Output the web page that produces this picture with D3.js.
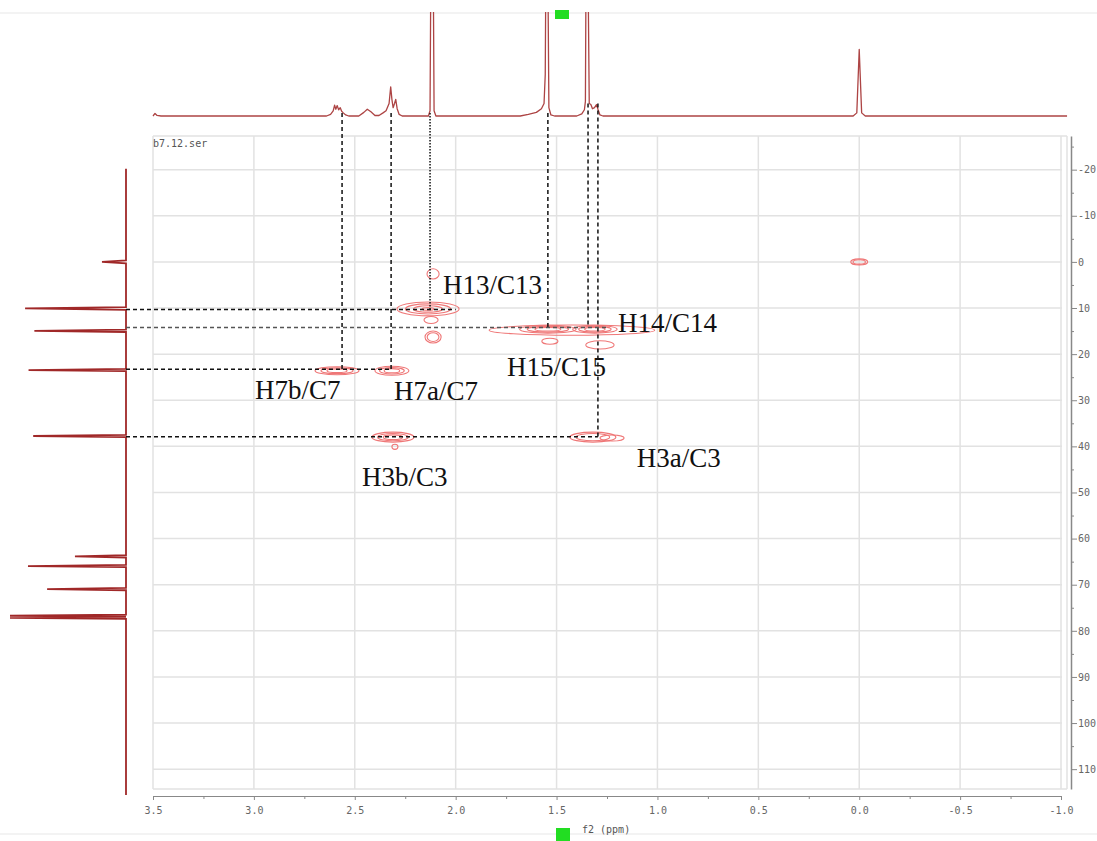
<!DOCTYPE html>
<html>
<head>
<meta charset="utf-8">
<script src="https://cdn.jsdelivr.net/npm/d3@7"></script>
<style>
  body { margin: 0; background: #fff; }
  .lab { font-family: "Liberation Serif", "Times New Roman", serif; font-size: 27px; fill: #111; }
  .tk text { font-family: "DejaVu Sans Mono", monospace; font-size: 10px; fill: #666; }
  .mono { font-family: "DejaVu Sans Mono", monospace; font-size: 10px; fill: #555; }
</style>
</head>
<body>
<div id="chart"></div>
<script>
// tick values, f2 = 1H, f1 = 13C
var hTicks = [3.5, 3.0, 2.5, 2.0, 1.5, 1.0, 0.5, 0.0, -0.5, -1.0];
var hMinor = [3.25, 2.75, 2.25, 1.75, 1.25, 0.75, 0.25, -0.25, -0.75];
var cTicks = [-20, -10, 0, 10, 20, 30, 40, 50, 60, 70, 80, 90, 100, 110];
var cMinor = [-25, -15, -5, 5, 15, 25, 35, 45, 55, 65, 75, 85, 95, 105];

// 1H projection on top: [ppm, intensity]
var hTrace = [
  [3.50, 0], [3.49, 2.5], [3.48, 0.5], [3.46, 0],
  [2.64, 0], [2.62, 1.5], [2.607, 5], [2.600, 10.5], [2.594, 6.5], [2.587, 10], [2.580, 6],
  [2.572, 8], [2.565, 4.5], [2.557, 3], [2.545, 1], [2.53, 0],
  [2.48, 0], [2.455, 3.5], [2.438, 6.5], [2.42, 4], [2.40, 0.5], [2.38, 0.5],
  [2.36, 3], [2.345, 5], [2.33, 12], [2.322, 28], [2.316, 16], [2.310, 8], [2.303, 12],
  [2.297, 16], [2.290, 7], [2.280, 1.5], [2.265, 0],
  [2.135, 0], [2.127, 5], [2.123, 140], [2.111, 140], [2.107, 5], [2.098, 0],
  [1.68, 0], [1.64, 1.5], [1.60, 3.5], [1.575, 7], [1.562, 12], [1.556, 40], [1.553, 140],
  [1.543, 140], [1.538, 8], [1.528, 1], [1.51, 0],
  [1.40, 0], [1.375, 2], [1.362, 6], [1.357, 14], [1.354, 140], [1.344, 140], [1.338, 12],
  [1.330, 11], [1.322, 7], [1.312, 8], [1.302, 11], [1.294, 6], [1.285, 1], [1.27, 0],
  [0.03, 0], [0.012, 3], [0.0, 64], [-0.012, 3], [-0.03, 0], [-1.03, 0]
];

// 13C projection on the left: [ppm, intensity]
var cTrace = [
  [-20.2, 0], [-0.3, 0], [0, 20.7], [0.3, 0],
  [9.8, 0], [10.1, 87], [10.4, 0],
  [14.7, 0], [14.95, 79], [15.2, 0],
  [23.2, 0], [23.45, 84], [23.7, 0],
  [37.5, 0], [37.75, 80], [38.0, 0],
  [63.6, 0], [63.85, 44], [64.1, 0],
  [65.7, 0], [65.95, 84.5], [66.2, 0],
  [70.7, 0], [70.95, 68], [71.2, 0],
  [76.5, 0], [76.7, 100], [76.85, 0], [76.95, 100], [77.1, 0], [77.2, 100], [77.4, 0],
  [115.6, 0]
];

// HSQC cross peaks: [1H ppm, 13C ppm, 1H half width, 13C half width, contour levels]
var crossPeaks = [
  [0.0, 0.0, 0.042, 0.65, 2],
  [2.137, 10.2, 0.154, 1.5, 4],
  [2.112, 2.6, 0.03, 1.1, 1],
  [2.122, 12.6, 0.035, 0.75, 1],
  [2.112, 16.3, 0.04, 1.3, 2],
  [1.424, 14.8, 0.41, 1.1, 1],
  [1.543, 14.6, 0.14, 0.85, 3],
  [1.31, 14.6, 0.11, 0.85, 3],
  [1.533, 17.2, 0.04, 0.65, 1],
  [1.285, 18.0, 0.07, 0.9, 1],
  [2.588, 23.6, 0.109, 0.87, 3],
  [2.316, 23.6, 0.084, 0.98, 3],
  [2.311, 38.0, 0.104, 1.08, 3],
  [2.301, 40.1, 0.015, 0.55, 1],
  [1.32, 38.0, 0.114, 1.08, 2],
  [1.225, 38.2, 0.06, 0.65, 1]
];

// assignment labels: [text, 1H ppm, 13C ppm] of the text start
var labels = [
  ["H13/C13", 2.063, 6.9],
  ["H14/C14", 1.196, 15.2],
  ["H15/C15", 1.746, 24.7],
  ["H7b/C7", 2.995, 29.7],
  ["H7a/C7", 2.306, 29.9],
  ["H3b/C3", 2.464, 48.6],
  ["H3a/C3", 1.102, 44.5]
];

// guides from the 1H trace down: [1H ppm, 13C ppm where it ends, trace intensity where it starts]
var vGuides = [
  [2.563, 23.3, 3],
  [2.320, 23.3, 3],
  [2.127, 10.3, 3],
  [1.543, 14.2, 3],
  [1.344, 14.2, 12],
  [1.295, 37.9, 12]
];
// guides from the 13C trace across: [13C ppm, 1H ppm where it ends]
var hGuides = [
  [10.3, 2.0],
  [14.2, 1.25],
  [23.3, 2.32],
  [37.9, 1.295]
];
var vDash = ["4,3", "4,3", "1.5,1.5", "4,3", "4,3", "4,3"];
var hColor = ["#111", "#555", "#111", "#111"];

var svgWidth = 1097;
var svgHeight = 841;

var svg = d3.select("#chart")
  .append("svg")
  .attr("width", svgWidth)
  .attr("height", svgHeight);

svg.append("rect").attr("width", svgWidth).attr("height", svgHeight).attr("fill", "#fff");

// scales
var x = d3.scaleLinear().domain([3.5, -1.0]).range([153, 1061]);
var y = d3.scaleLinear().domain([-27.3, 114.3]).range([136, 789]);
var hY = d3.scaleLinear().domain([0, 100]).range([116, 12]);
var cX = d3.scaleLinear().domain([0, 100]).range([126, 10]);

// faint page lines
svg.append("line").attr("x1", 0).attr("x2", svgWidth).attr("y1", 13).attr("y2", 13)
  .attr("stroke", "#efefef").attr("stroke-width", 1.5);
svg.append("line").attr("x1", 0).attr("x2", svgWidth).attr("y1", 834).attr("y2", 834)
  .attr("stroke", "#efefef").attr("stroke-width", 1.5);

// grid
var grid = svg.append("g").attr("stroke", "#e2e2e2").attr("stroke-width", 1.5);
grid.selectAll("line.v").data(hTicks).enter().append("line")
  .attr("x1", d => x(d)).attr("x2", d => x(d))
  .attr("y1", y.range()[0]).attr("y2", y.range()[1]);
grid.append("line").attr("x1", 1067).attr("x2", 1067).attr("y1", 136).attr("y2", 789);
grid.selectAll("line.h").data(cTicks).enter().append("line")
  .attr("x1", x(3.5)).attr("x2", 1062)
  .attr("y1", d => y(d)).attr("y2", d => y(d));
grid.append("line").attr("x1", x(3.5)).attr("x2", 1067).attr("y1", 136).attr("y2", 136);
grid.append("line").attr("x1", x(3.5)).attr("x2", 1067).attr("y1", 789).attr("y2", 789);

// bottom axis
var bottom = svg.append("g").attr("class", "tk").attr("transform", "translate(0,796)");
bottom.call(d3.axisBottom(x).tickValues(hTicks).tickSize(4).tickSizeOuter(0).tickPadding(7)
  .tickFormat(d => d.toFixed(1)));
bottom.append("g").call(d3.axisBottom(x).tickValues(hMinor).tickSize(3).tickFormat(""))
  .select(".domain").remove();
bottom.selectAll("path, line").attr("stroke", "#888");

// right axis
var right = svg.append("g").attr("class", "tk").attr("transform", "translate(1071,0)");
right.call(d3.axisRight(y).tickValues(cTicks).tickSize(6).tickSizeOuter(0).tickPadding(1)
  .tickFormat(d => String(d)));
right.append("g").call(d3.axisRight(y).tickValues(cMinor).tickSize(3).tickFormat(""))
  .select(".domain").remove();
right.selectAll("path, line").attr("stroke", "#888");
right.select(".domain").attr("stroke-width", 1.5);

svg.append("text").attr("class", "mono").attr("x", 582).attr("y", 833).text("f2 (ppm)");
svg.append("text").attr("class", "mono").attr("x", 153).attr("y", 147).text("b7.12.ser");

// green markers
svg.append("rect").attr("x", 555).attr("y", 10).attr("width", 14).attr("height", 9).attr("fill", "#22dd22");
svg.append("rect").attr("x", 556).attr("y", 828).attr("width", 14).attr("height", 13).attr("fill", "#22dd22");

// 1H projection
svg.append("clipPath").attr("id", "topclip")
  .append("rect").attr("x", 150).attr("y", 12).attr("width", 920).attr("height", 124);
var hLine = d3.line().x(d => x(d[0])).y(d => hY(d[1]));
svg.append("path").datum(hTrace)
  .attr("clip-path", "url(#topclip)")
  .attr("d", hLine)
  .attr("fill", "none").attr("stroke", "#ad4444").attr("stroke-width", 1.3)
  .attr("stroke-linejoin", "round");

// 13C projection
var cLine = d3.line().x(d => cX(d[1])).y(d => y(d[0]));
svg.append("path").datum(cTrace)
  .attr("d", cLine)
  .attr("fill", "none").attr("stroke", "#a02828").attr("stroke-width", 1.8);

// contours
var contours = svg.append("g").attr("fill", "none").attr("stroke", "#ef7777").attr("stroke-width", 1.1);
crossPeaks.forEach(function(p) {
  for (var k = 0; k < p[4]; k++) {
    var s = 1 - k * 0.27;
    contours.append("ellipse")
      .attr("cx", x(p[0]))
      .attr("cy", y(p[1]))
      .attr("rx", Math.abs(x(p[0] + p[2] * s) - x(p[0])))
      .attr("ry", Math.abs(y(p[1] + p[3] * s) - y(p[1])));
  }
});

// guides
var guides = svg.append("g").attr("fill", "none").attr("stroke-width", 1.5);
vGuides.forEach(function(g, i) {
  guides.append("line")
    .attr("x1", x(g[0])).attr("x2", x(g[0]))
    .attr("y1", hY(g[2])).attr("y2", y(g[1]))
    .attr("stroke", "#111").attr("stroke-dasharray", vDash[i]);
});
hGuides.forEach(function(g, i) {
  guides.append("line")
    .attr("x1", cX(0)).attr("x2", x(g[1]))
    .attr("y1", y(g[0])).attr("y2", y(g[0]))
    .attr("stroke", hColor[i]).attr("stroke-dasharray", "4,3");
});

// labels
svg.selectAll("text.lab").data(labels).enter().append("text")
  .attr("class", "lab")
  .attr("x", d => x(d[1]))
  .attr("y", d => y(d[2]))
  .text(d => d[0]);
</script>
</body>
</html>
